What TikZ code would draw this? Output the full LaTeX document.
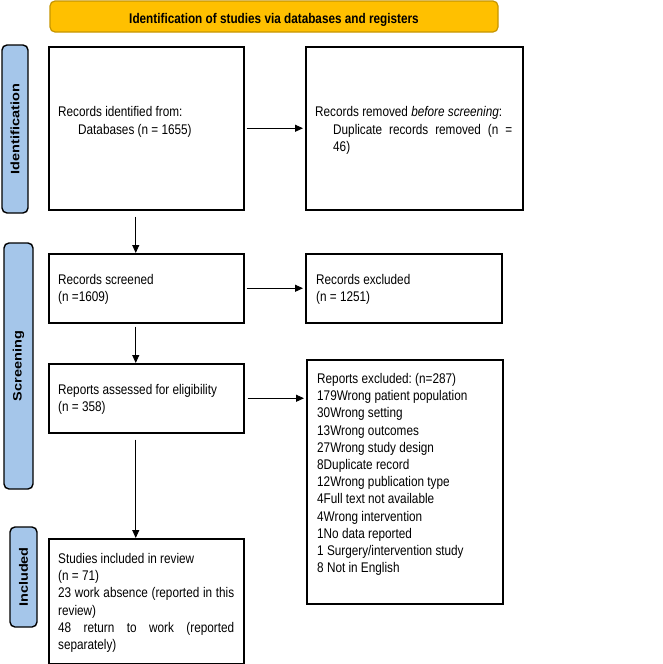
\documentclass[tikz,border=0pt]{standalone}
\usepackage{fontspec}
\setmainfont{Liberation Sans}[FakeStretch=0.84]
\newfontfamily\sidefont{Liberation Sans}
\usetikzlibrary{arrows.meta}
\definecolor{bannerfill}{HTML}{FFC000}
\definecolor{bannerdraw}{HTML}{C69500}
\definecolor{sidefill}{HTML}{A5C6EA}
\newcommand{\narrowspace}{\frenchspacing\spaceskip=3.27pt plus 1.6pt minus 1.1pt\relax}
\begin{document}
\begin{tikzpicture}[x=1pt,y=-1pt,
  box/.style={draw, line width=1.5pt, anchor=north west, inner sep=0pt},
  txt/.style={anchor=north west, inner sep=0pt, font=\fontsize{14}{17.2}\selectfont,
    execute at begin node=\narrowspace},
  side/.style={draw, line width=1.4pt, fill=sidefill, rounded corners=5pt, rotate=90, inner sep=0pt,
    font=\sidefont\bfseries\fontsize{14.5}{17}\selectfont},
  arr/.style={-{Triangle[length=8pt,width=7pt]}, line width=1pt}]
\useasboundingbox (0,0) rectangle (663,664);

% banner
\node[draw=bannerdraw, fill=bannerfill, line width=1.2pt, rounded corners=5pt,
  minimum width=448, minimum height=31, inner sep=0pt] (ban) at (274,16.5) {};
\node[anchor=base, inner sep=0pt, font=\bfseries\fontsize{14}{17}\selectfont,
  execute at begin node=\narrowspace] (bant) at (274,23.3)
  {Identification of studies via databases and registers};

% side labels
\node[side, minimum width=168, minimum height=26] (s1) at (15,129) {\scalebox{1}[0.84]{Identification}};
\node[side, minimum width=246, minimum height=29] (s2) at (18.5,366) {\scalebox{1}[0.84]{Screening}};
\node[side, minimum width=100, minimum height=27] (s3) at (23.5,577) {\scalebox{1}[0.84]{Included}};

% boxes
\node[box, minimum width=195, minimum height=163] (b1) at (48,46) {};
\node[box, minimum width=217, minimum height=163] (b2) at (305,46) {};
\node[box, minimum width=195, minimum height=69] (b3) at (48,253) {};
\node[box, minimum width=196, minimum height=69] (b4) at (305,253) {};
\node[box, minimum width=195, minimum height=69] (b5) at (48,363) {};
\node[box, minimum width=196, minimum height=244] (b6) at (306,359) {};
\node[box, minimum width=195, minimum height=125] (b7) at (48,538) {};

% texts
\node[txt, text width=185, align=left] (t1) at (58,104.7)
  {\strut Records identified from:\\\hspace*{20pt}Databases (n = 1655)};
\node[txt, text width=197, align=justify] (t2) at (315,104.7)
  {\parindent=0pt\tolerance=10000\hyphenpenalty=10000
   \strut Records removed \textit{before screening}:\par
   \leftskip=18pt Duplicate records removed (n = 46)\par};
\node[txt, text width=185, align=left] (t3) at (58,272.3)
  {\strut Records screened\\(n =1609)};
\node[txt, text width=185, align=left] (t4) at (316,272.3)
  {\strut Records excluded\\(n = 1251)};
\node[txt, text width=185, align=left] (t5) at (58,382)
  {\strut Reports assessed for eligibility\\(n = 358)};
\node[txt, text width=185, align=left] (t6) at (317,371.3)
  {\strut Reports excluded: (n=287)\\179Wrong patient population\\30Wrong setting\\13Wrong outcomes\\
   27Wrong study design\\8Duplicate record\\12Wrong publication type\\4Full text not available\\
   4Wrong intervention\\1No data reported\\1 Surgery/intervention study\\8 Not in English};
\node[txt, text width=176, align=justify] (t7) at (58,551.3)
  {\parindent=0pt\tolerance=10000\hyphenpenalty=10000
   \strut Studies included in review\par
   (n = 71)\par
   23 work absence (reported in this review)\par
   48 return to work (reported \mbox{separately)}\par};

% arrows
\coordinate (c56) at (b5.east -| b6.west);
\draw[arr] ([xshift=2pt]b1.east) -- ([xshift=-2pt]b2.west);
\draw[arr] ([xshift=2pt]b3.east) -- ([xshift=-2pt]b4.west);
\draw[arr] ([xshift=3pt]b5.east) -- ([xshift=-2pt]c56);
\draw[arr] ([xshift=-10.5pt,yshift=-6pt]b1.south) -- ([xshift=-10.5pt]b3.north);
\draw[arr] ([xshift=-10.5pt,yshift=-3pt]b3.south) -- ([xshift=-10.5pt]b5.north);
\draw[arr] ([xshift=-10.5pt,yshift=-6pt]b5.south) -- ([xshift=-10.5pt]b7.north);
\end{tikzpicture}
\end{document}
